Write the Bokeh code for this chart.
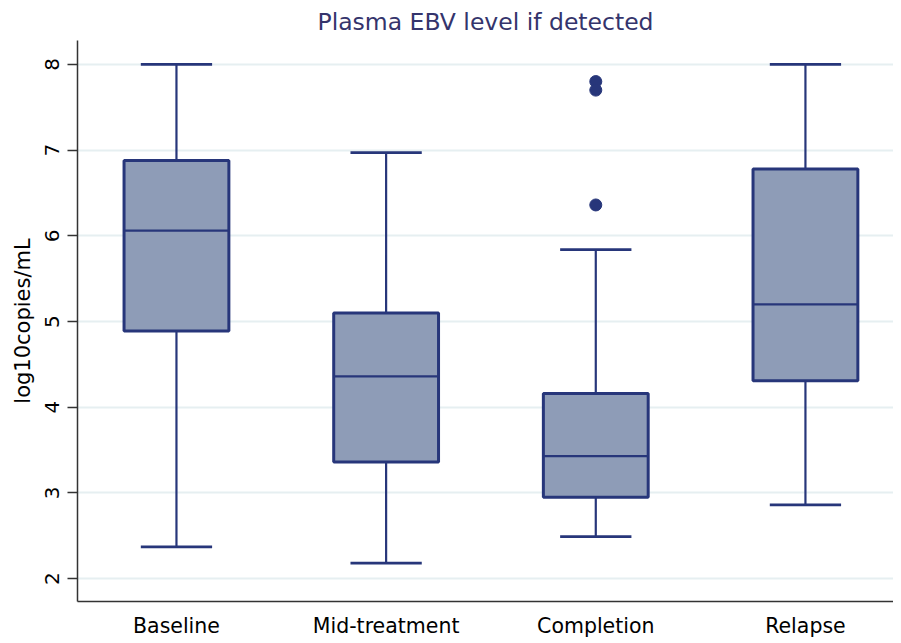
from bokeh.plotting import figure
from bokeh.models import FixedTicker, Range1d
from bokeh.embed import file_html
from bokeh.resources import INLINE

categories = ["Baseline", "Mid-treatment", "Completion", "Relapse"]
lower_whisker = [2.37, 2.18, 2.49, 2.86]
q1 = [4.89, 3.36, 2.95, 4.31]
median = [6.06, 4.36, 3.43, 5.20]
q3 = [6.88, 5.10, 4.16, 6.78]
upper_whisker = [8.00, 6.97, 5.84, 8.00]
outlier_cat = [3, 3, 3]
outlier_val = [7.80, 7.70, 6.36]
y_ticks = [2, 3, 4, 5, 6, 7, 8]

xpos = [i + 1 for i in range(len(categories))]
box_w = 0.5
cap_w = 0.34

LINE = "#27367a"
FILL = "#8e9cb7"
FONT = "DejaVu Sans"

p = figure(width=893, height=640, output_backend="svg", toolbar_location=None,
           x_range=Range1d(0.528, 4.42), y_range=Range1d(1.733, 8.279),
           min_border_left=77, min_border_right=0, min_border_top=39, min_border_bottom=37)
p.outline_line_color = None
p.background_fill_color = "white"
p.border_fill_color = "white"

p.title.text = "Plasma EBV level if detected"
p.title.align = "center"
p.title.text_font = FONT
p.title.text_font_size = "23.5px"
p.title.text_font_style = "normal"
p.title.text_color = "#34346c"

# whiskers
p.segment(x0=xpos, y0=q3, x1=xpos, y1=upper_whisker, line_color=LINE, line_width=2.2)
p.segment(x0=xpos, y0=q1, x1=xpos, y1=lower_whisker, line_color=LINE, line_width=2.2)
p.segment(x0=[x - cap_w / 2 for x in xpos], y0=upper_whisker,
          x1=[x + cap_w / 2 for x in xpos], y1=upper_whisker, line_color=LINE, line_width=2.8)
p.segment(x0=[x - cap_w / 2 for x in xpos], y0=lower_whisker,
          x1=[x + cap_w / 2 for x in xpos], y1=lower_whisker, line_color=LINE, line_width=2.8)
# boxes
p.vbar(x=xpos, width=box_w, bottom=q1, top=q3, fill_color=FILL, line_color=LINE, line_width=3)
p.segment(x0=[x - box_w / 2 for x in xpos], y0=median,
          x1=[x + box_w / 2 for x in xpos], y1=median, line_color=LINE, line_width=2.2)
# outliers
p.scatter(x=outlier_cat, y=outlier_val, size=12, fill_color=LINE, line_color=LINE)

# axes
p.xaxis.ticker = FixedTicker(ticks=xpos)
p.xaxis.major_label_overrides = {x: c for x, c in zip(xpos, categories)}
p.xaxis.major_tick_out = 0
p.xaxis.major_tick_in = 0
p.xaxis.minor_tick_out = 0
p.xaxis.minor_tick_in = 0
p.xaxis.major_label_standoff = 12
p.xaxis.major_label_text_font = FONT
p.xaxis.major_label_text_font_size = "20.5px"
p.xaxis.major_label_text_color = "black"
p.xaxis.axis_line_color = "#333333"
p.xaxis.axis_line_width = 1.5

p.yaxis.ticker = FixedTicker(ticks=y_ticks)
p.yaxis.major_label_orientation = "vertical"
p.yaxis.major_tick_out = 10
p.yaxis.major_tick_in = 0
p.yaxis.minor_tick_out = 0
p.yaxis.minor_tick_in = 0
p.yaxis.major_label_standoff = 8
p.yaxis.major_label_text_font = FONT
p.yaxis.major_label_text_font_size = "20px"
p.yaxis.major_label_text_color = "black"
p.yaxis.axis_line_color = "#333333"
p.yaxis.axis_line_width = 1.5
p.yaxis.major_tick_line_color = "#333333"
p.yaxis.major_tick_line_width = 1.5
p.yaxis.axis_label = "log10copies/mL"
p.yaxis.axis_label_text_font = FONT
p.yaxis.axis_label_text_font_size = "21px"
p.yaxis.axis_label_text_font_style = "normal"
p.yaxis.axis_label_text_color = "black"
p.yaxis.axis_label_standoff = 8

p.xgrid.grid_line_color = None
p.ygrid.grid_line_color = "#e6eff1"
p.ygrid.grid_line_width = 2

open("out.html", "w").write(file_html(p, INLINE))
